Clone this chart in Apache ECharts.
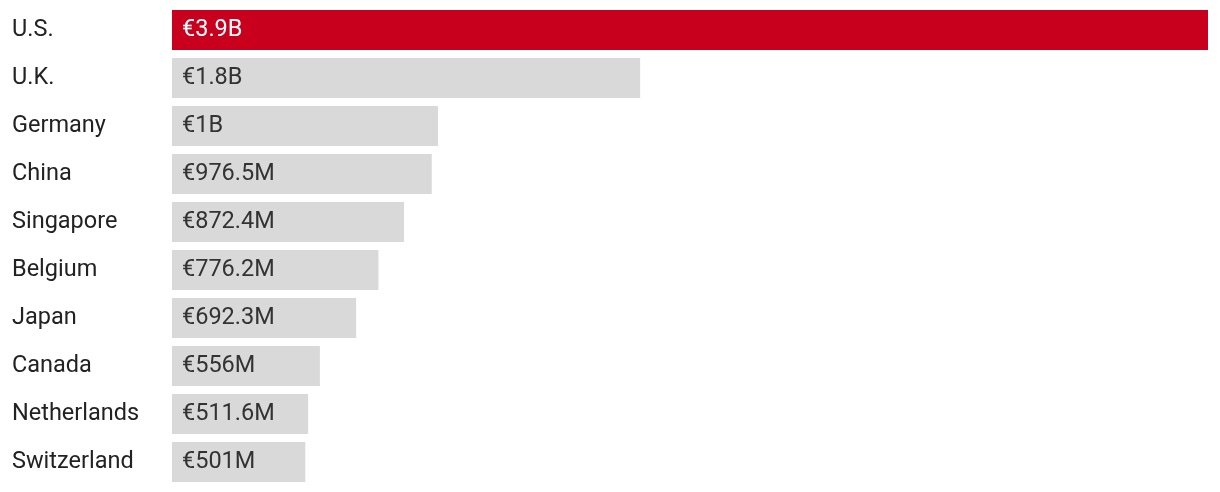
<!DOCTYPE html>
<html>
<head>
<meta charset="utf-8">
<script src="https://cdn.jsdelivr.net/npm/echarts@6/dist/echarts.min.js"></script>
<style>
html,body{margin:0;padding:0;background:#fff;}
#chart{width:1220px;height:492px;}
</style>
</head>
<body>
<div id="chart"></div>
<script>
const categories = ["U.S.", "U.K.", "Germany", "China", "Singapore", "Belgium", "Japan", "Canada", "Netherlands", "Switzerland"];
const values = [3.895, 1.76, 1.0, 0.9765, 0.8724, 0.7762, 0.6923, 0.556, 0.5116, 0.501];
const valueLabels = ["€3.9B", "€1.8B", "€1B", "€976.5M", "€872.4M", "€776.2M", "€692.3M", "€556M", "€511.6M", "€501M"];
const highlightIndex = 0;

const chart = echarts.init(document.getElementById('chart'), null, {renderer: 'canvas'});
const font = 'Roboto, "DejaVu Sans", sans-serif';
chart.setOption({
  animation: false,
  grid: {left: 172, right: 12, top: 6, bottom: 6, containLabel: false},
  xAxis: {
    type: 'value', min: 0, max: 'dataMax', show: false
  },
  yAxis: {
    type: 'category', data: categories, inverse: true,
    axisLine: {show: false}, axisTick: {show: false}, splitLine: {show: false},
    axisLabel: {align: 'left', margin: 160, fontSize: 23.5, fontWeight: 400, color: '#222', fontFamily: font, padding: [5, 0, 0, 0]}
  },
  series: [{
    type: 'bar',
    data: values.map((v, i) => ({
      value: v,
      itemStyle: {color: i === highlightIndex ? '#c8001e' : '#d9d9d9'},
      label: {color: i === highlightIndex ? '#ffffff' : '#333333'}
    })),
    barCategoryGap: '16.7%',
    label: {
      show: true, position: 'insideLeft', distance: 10,
      fontSize: 23.5, fontWeight: 400, fontFamily: font, padding: [5, 0, 0, 0],
      formatter: p => valueLabels[p.dataIndex]
    }
  }]
});
</script>
</body>
</html>
